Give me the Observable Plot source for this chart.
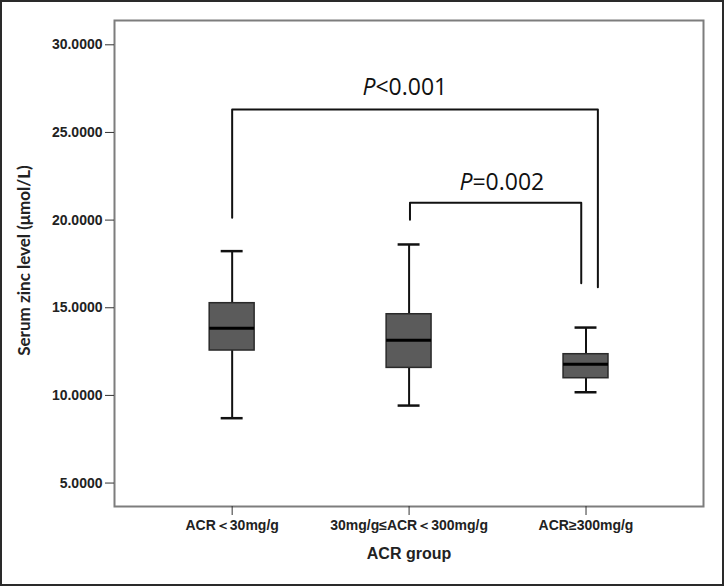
<!DOCTYPE html>
<html>
<head>
<meta charset="utf-8">
<script src="https://cdn.jsdelivr.net/npm/d3@7"></script>
<script src="https://cdn.jsdelivr.net/npm/@observablehq/plot@0.6"></script>
<style>
  html, body { margin: 0; padding: 0; background: #fff; }
</style>
</head>
<body>
<div id="chart"></div>
<script>
// ---- data ----
const categories = ["ACR\uFF1C30mg/g", "30mg/g\u2264ACR\uFF1C300mg/g", "ACR\u2265300mg/g"];
const whiskerLow  = [8.70, 9.42, 10.18];
const q1          = [12.56, 11.57, 10.98];
const median      = [13.83, 13.15, 11.78];
const q3          = [15.26, 14.63, 12.35];
const whiskerHigh = [18.23, 18.61, 13.87];
const yTicks = [5, 10, 15, 20, 25, 30];

// significance brackets (x in category units, y in µmol/L)
const bracketP      = ["P", "P"];
const bracketText   = ["<0.001", "=0.002"];
const bracketLeftX  = [0.0, 1.005];
const bracketRightX = [2.067, 1.973];
const bracketTopY   = [26.31, 20.99];
const bracketLeftBottomY  = [20.13, 20.02];
const bracketRightBottomY = [16.17, 16.40];
const labelX = [0.81, 1.358];
const labelY = [27.55, 22.12];

const yTitle = "Serum zinc level (\u03BCmol/L)";
const xTitle = "ACR group";

// ---- build ----
const idx = categories.map((_, i) => i);
const boxHalf = 0.127, capHalf = 0.062;

const bracketPts = [];
bracketLeftX.forEach((_, b) => {
  bracketPts.push({b, x: bracketLeftX[b], y: bracketLeftBottomY[b]});
  bracketPts.push({b, x: bracketLeftX[b], y: bracketTopY[b]});
  bracketPts.push({b, x: bracketRightX[b], y: bracketTopY[b]});
  bracketPts.push({b, x: bracketRightX[b], y: bracketRightBottomY[b]});
});
const bIdx = bracketText.map((_, i) => i);

const chart = Plot.plot({
  width: 724,
  height: 586,
  marginLeft: 114,
  marginRight: 21,
  marginTop: 20,
  marginBottom: 80,
  x: {domain: [-0.665, 2.664], axis: null},
  y: {domain: [3.663, 31.386], axis: null},
  style: {fontFamily: "'Liberation Sans', Arial, sans-serif", background: "#fff", color: "#222", outline: "2px solid #2a2a2a", outlineOffset: "-2px"},
  marks: [
    Plot.frame({stroke: "#7d7d7d", strokeWidth: 2}),
    Plot.axisY({ticks: yTicks, tickFormat: d => d.toFixed(4), tickSize: 9, tickPadding: 3, fontWeight: "bold", fontSize: 14, label: null, stroke: "#333"}),
    Plot.axisX({ticks: idx, tickFormat: i => categories[i], tickSize: 9, tickPadding: 5, fontWeight: "bold", fontSize: 14, label: null, stroke: "#333"}),
    // whiskers
    Plot.ruleX(idx, {x: i => i, y1: whiskerLow, y2: q1, stroke: "#111", strokeWidth: 2}),
    Plot.ruleX(idx, {x: i => i, y1: q3, y2: whiskerHigh, stroke: "#111", strokeWidth: 2}),
    Plot.ruleY(idx, {y: whiskerLow, x1: i => i - capHalf, x2: i => i + capHalf, stroke: "#111", strokeWidth: 2.5}),
    Plot.ruleY(idx, {y: whiskerHigh, x1: i => i - capHalf, x2: i => i + capHalf, stroke: "#111", strokeWidth: 2.5}),
    // boxes
    Plot.rect(idx, {x1: i => i - boxHalf, x2: i => i + boxHalf, y1: q1, y2: q3, fill: "#5b5b5b", stroke: "#2a2a2a", strokeWidth: 1.5}),
    Plot.ruleY(idx, {y: median, x1: i => i - boxHalf, x2: i => i + boxHalf, stroke: "#000", strokeWidth: 3}),
    // brackets
    Plot.line(bracketPts, {x: "x", y: "y", z: "b", stroke: "#111", strokeWidth: 2}),
    Plot.text(bIdx, {x: i => labelX[i], y: i => labelY[i], text: i => bracketP[i], textAnchor: "end", fontStyle: "italic", fontFamily: "'Open Sans', sans-serif", fontSize: 23, fill: "#111", lineAnchor: "middle"}),
    Plot.text(bIdx, {x: i => labelX[i], y: i => labelY[i], text: i => bracketText[i], textAnchor: "start", fontFamily: "'Open Sans', sans-serif", fontSize: 23, fill: "#111", lineAnchor: "middle"}),
    // axis titles
    Plot.text([xTitle], {text: d => d, frameAnchor: "bottom", textAnchor: "middle", lineAnchor: "middle", dy: 47, fontWeight: "bold", fontSize: 16, fill: "#222"}),
    Plot.text([yTitle], {text: d => d, frameAnchor: "left", textAnchor: "middle", lineAnchor: "middle", rotate: -90, dx: -90, dy: -3, fontWeight: "bold", fontSize: 17, fontFamily: "Lato, sans-serif", fill: "#222"})
  ]
});
document.getElementById("chart").appendChild(chart);
</script>
</body>
</html>
